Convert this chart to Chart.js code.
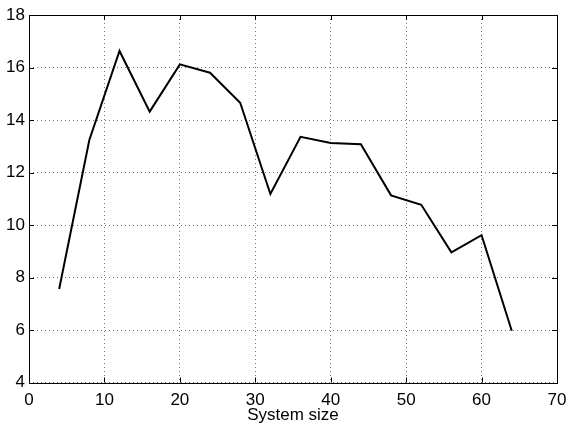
<!DOCTYPE html>
<html>
<head>
<meta charset="utf-8">
<script src="https://cdn.jsdelivr.net/npm/chart.js@4/dist/chart.umd.min.js"></script>
<style>
	html, body { margin: 0; padding: 0; background: #fff; }
	#wrap { width: 569px; height: 424px; }
</style>
</head>
<body>
<div id="wrap"><canvas id="chart" width="569" height="424"></canvas></div>
<script>
// values
const systemSizes = [4, 8, 12, 16, 20, 24, 28, 32, 36, 40, 44, 48, 52, 56, 60, 64];
const values = [7.56, 13.24, 16.63, 14.32, 16.12, 15.8, 14.66, 11.18, 13.36, 13.12, 13.08, 11.13, 10.77, 8.96, 9.61, 5.97];
const xTicks = [0, 10, 20, 30, 40, 50, 60, 70];
const yTicks = [4, 6, 8, 10, 12, 14, 16, 18];

const FONT = { family: 'Liberation Sans, Arial, Helvetica, sans-serif', size: 17, lineHeight: 1 };

// MATLAB-style box with inward ticks on all four sides
const boxPlugin = {
	id: 'box',
	afterDraw(chart) {
		const { ctx, chartArea: a, scales } = chart;
		const len = 5;
		ctx.save();
		ctx.strokeStyle = '#000';
		ctx.lineWidth = 1;
		ctx.beginPath();
		scales.x.ticks.forEach(t => {
			const px = Math.round(scales.x.getPixelForValue(t.value)) + 0.5;
			ctx.moveTo(px, a.bottom); ctx.lineTo(px, a.bottom - len);
			ctx.moveTo(px, a.top); ctx.lineTo(px, a.top + len);
		});
		scales.y.ticks.forEach(t => {
			const py = Math.round(scales.y.getPixelForValue(t.value)) + 0.5;
			ctx.moveTo(a.left, py); ctx.lineTo(a.left + len, py);
			ctx.moveTo(a.right, py); ctx.lineTo(a.right - len, py);
		});
		ctx.stroke();
		ctx.strokeRect(Math.round(a.left) + 0.5, Math.round(a.top) + 0.5,
			Math.round(a.right - a.left), Math.round(a.bottom - a.top));
		ctx.restore();
	}
};

const gridStyle = {
	color: 'rgba(0,0,0,0.55)',
	lineWidth: 1,
	drawTicks: false
};

new Chart(document.getElementById('chart'), {
	type: 'line',
	data: {
		datasets: [{
			data: systemSizes.map((s, i) => ({ x: s, y: values[i] })),
			borderColor: '#000',
			borderWidth: 2,
			pointRadius: 0,
			tension: 0,
			fill: false
		}]
	},
	options: {
		responsive: false,
		animation: false,
		layout: { padding: { top: 15, right: 12, left: 0, bottom: 0 } },
		plugins: { legend: { display: false }, tooltip: { enabled: false } },
		scales: {
			x: {
				type: 'linear',
				min: 0, max: 70,
				afterBuildTicks: s => { s.ticks = xTicks.map(v => ({ value: v })); },
				afterFit: s => { s.height = 41.5; s.paddingLeft = 0; s.paddingRight = 0; },
				grid: { ...gridStyle },
				border: { display: false, dash: [1, 3] },
				ticks: { color: '#000', font: FONT, padding: 9, maxRotation: 0 },
				title: { display: true, text: 'System size', color: '#000', font: FONT, padding: { top: 0, bottom: 0 } }
			},
			y: {
				type: 'linear',
				min: 4, max: 18,
				afterBuildTicks: s => { s.ticks = yTicks.map(v => ({ value: v })); },
				afterFit: s => { s.width = 29; s.paddingTop = 0; s.paddingBottom = 0; },
				grid: { ...gridStyle },
				border: { display: false, dash: [1, 3] },
				ticks: { color: '#000', font: FONT, padding: 4 }
			}
		}
	},
	plugins: [boxPlugin]
});
</script>
</body>
</html>
